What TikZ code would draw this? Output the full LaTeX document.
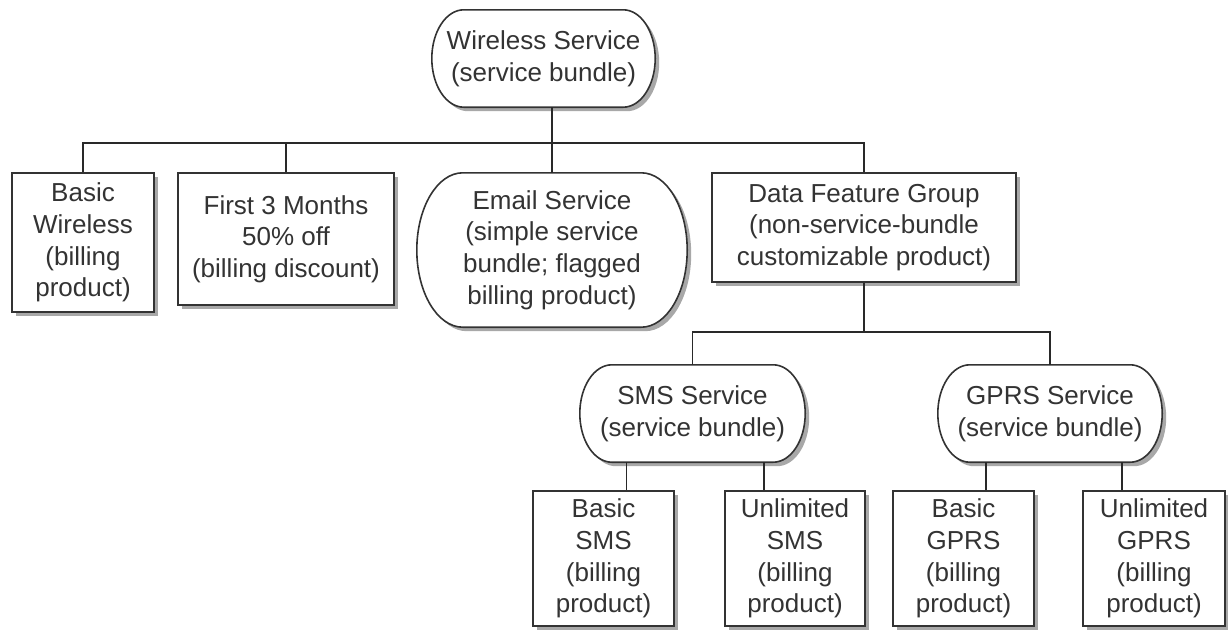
\documentclass[tikz,border=0pt]{standalone}
\usepackage{fontspec}
\setmainfont{Liberation Sans}
\usetikzlibrary{calc,shadows}
\pgfdeclarelayer{background}
\pgfsetlayers{background,main}
\definecolor{ink}{HTML}{333333}
\definecolor{shade}{HTML}{A8A8A8}
\tikzset{
  txt/.style={inner sep=0pt, align=center, text=ink,
    font=\fontsize{26}{31.7}\selectfont},
  box/.style={txt, draw=ink, line width=1.6pt, fill=white,
    drop shadow={shadow xshift=4pt, shadow yshift=-4pt, fill=shade, opacity=1}},
  pilltext/.style={txt},
  pillshadow/.style={fill=shade},
  pillbody/.style={draw=ink, line width=1.6pt, fill=white},
  link/.style={draw=ink!80!black, line width=1.8pt}
}
\newcommand\pill[2]{%
  \path[pillshadow] let \p1=(#1.north west), \p2=(#1.south east), \n1={(\y1-\y2)/2} in
    (\x1+#2+4pt,\y1-4pt) -- (\x2-#2+4pt,\y1-4pt)
    arc[start angle=90,end angle=-90,x radius=#2,y radius=\n1]
    -- (\x1+#2+4pt,\y2-4pt)
    arc[start angle=270,end angle=90,x radius=#2,y radius=\n1] -- cycle;
  \path[pillbody] let \p1=(#1.north west), \p2=(#1.south east), \n1={(\y1-\y2)/2} in
    (\x1+#2,\y1) -- (\x2-#2,\y1)
    arc[start angle=90,end angle=-90,x radius=#2,y radius=\n1]
    -- (\x1+#2,\y2)
    arc[start angle=270,end angle=90,x radius=#2,y radius=\n1] -- cycle;
}
\begin{document}
\begin{tikzpicture}[x=1pt,y=1pt]
\useasboundingbox (0,0) rectangle (1228,-630);

% pill-shaped nodes (text only; outline drawn on background layer)
\node[pilltext, minimum width=223pt, minimum height=97pt] (W) at (543.5,-58.5)
  {Wireless Service\\(service bundle)};
\node[pilltext, minimum width=270pt, minimum height=154pt] (E) at (552,-250)
  {Email Service\\(simple service\\bundle; flagged\\billing product)};
\node[pilltext, minimum width=225pt, minimum height=97pt] (SMS) at (692.5,-413.5)
  {SMS Service\\(service bundle)};
\node[pilltext, minimum width=224pt, minimum height=97pt] (GPRS) at (1050,-413.5)
  {GPRS Service\\(service bundle)};

% rectangular nodes
\node[box, minimum width=142pt, minimum height=139pt] (BW) at (83,-242.5)
  {Basic\\Wireless\\(billing\\product)};
\node[box, minimum width=216pt, minimum height=132pt] (F3) at (286,-239)
  {First 3 Months\\50\% off\\(billing discount)};
\node[box, minimum width=304pt, minimum height=109pt] (D) at (864,-227.5)
  {Data Feature Group\\(non-service-bundle\\customizable product)};
\node[box, minimum width=141pt, minimum height=135pt] (BSMS) at (603.5,-558.5)
  {Basic\\SMS\\(billing\\product)};
\node[box, minimum width=140pt, minimum height=135pt] (USMS) at (795,-558.5)
  {Unlimited\\SMS\\(billing\\product)};
\node[box, minimum width=141pt, minimum height=135pt] (BGPRS) at (963.5,-558.5)
  {Basic\\GPRS\\(billing\\product)};
\node[box, minimum width=142pt, minimum height=135pt] (UGPRS) at (1154,-558.5)
  {Unlimited\\GPRS\\(billing\\product)};

\begin{pgfonlayer}{background}
  \pill{W}{32pt}
  \pill{E}{46pt}
  \pill{SMS}{32pt}
  \pill{GPRS}{32pt}
\end{pgfonlayer}

% connectors, top level
\coordinate (bar1) at (0,-143);
\draw[link] (E.north) -- (E.north |- W.south);
\draw[link] (BW.north) -- (BW.north |- bar1) -| (D.north);
\draw[link] (F3.north) -- (F3.north |- bar1);

% connectors, data feature group
\coordinate (bar2) at (0,-332);
\draw[link] (D.south) -- (D.south |- bar2);
\draw[link] (SMS.north) -- (SMS.north |- bar2) -| (GPRS.north);

% connectors, bottom level
\draw[link] ([xshift=-66pt]SMS.south) -- ([xshift=-66pt]SMS.south |- BSMS.north);
\draw[link] ([xshift=71.5pt]SMS.south) -- ([xshift=71.5pt]SMS.south |- USMS.north);
\draw[link] ([xshift=-64pt]GPRS.south) -- ([xshift=-64pt]GPRS.south |- BGPRS.north);
\draw[link] ([xshift=72pt]GPRS.south) -- ([xshift=72pt]GPRS.south |- UGPRS.north);
\end{tikzpicture}
\end{document}
